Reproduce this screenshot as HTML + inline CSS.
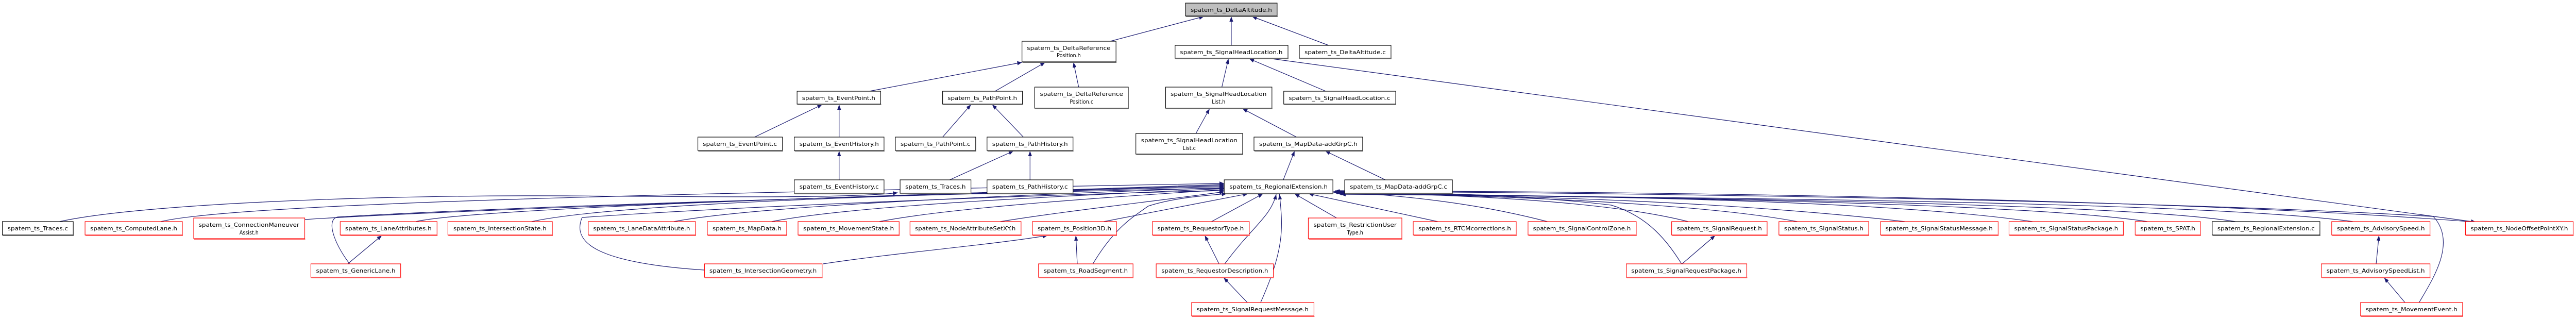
<!DOCTYPE html>
<html><head><meta charset="utf-8"><style>
html,body{margin:0;padding:0;background:#fff;width:100%;height:100%;overflow:hidden;}
svg{display:block;position:absolute;left:0;top:0;width:100vw;height:100vh;}
text{font-family:"DejaVu Sans","Liberation Sans",sans-serif;font-size:10.5px;fill:#000;text-anchor:middle;}
.b{fill:#fff;stroke:#000;stroke-width:1.2;}
.g{fill:#bfbfbf;stroke:#000;stroke-width:1.2;}
.r{fill:#fff;stroke:#f00;stroke-width:1.2;}
.sb{stroke:#666;stroke-width:2;}
.sr{stroke:#ff5a5a;stroke-width:2;}
.e{fill:none;stroke:#191970;stroke-width:1.2;}
</style></head><body>
<svg viewBox="0 0 5452 619" preserveAspectRatio="none" xmlns="http://www.w3.org/2000/svg">
<defs><marker id="a" viewBox="0 0 10 8" refX="10" refY="4" markerWidth="11" markerHeight="8" markerUnits="userSpaceOnUse" orient="auto"><path d="M0,0L10,4L0,8z" fill="#191970"/></marker></defs>

<g class="e" marker-end="url(#a)">
<path d="M2350,80L2548,32"/>
<path d="M2606,88L2606,32"/>
<path d="M2812,88L2650,32"/>
<path d="M1840,177L2163,121"/>
<path d="M2106,177L2212,121"/>
<path d="M2283,169L2272,121"/>
<path d="M2586,169L2600,114"/>
<path d="M2806,177L2644,114"/>
<path d="M2684,113L5240,431"/>
<path d="M1597,266L1740,203"/>
<path d="M1776,266L1776,203"/>
<path d="M1995,266L2055,203"/>
<path d="M2166,266L2100,203"/>
<path d="M2531,259L2560,211"/>
<path d="M2744,266L2630,211"/>
<path d="M1776,349L1776,293"/>
<path d="M2010,349L2145,293"/>
<path d="M2180,349L2180,293"/>
<path d="M2716,349L2740,293"/>
<path d="M2932,349L2805,293"/>
<path d="M126,430C300,395 800,378 1200,380C1500,382 1800,385 1900,374"/>
<path d="M340,430C500,395 1400,375 2591,356"/>
<path d="M645,426C900,410 1700,385 2591,358"/>
<path d="M880,430C1000,405 1800,380 2591,360"/>
<path d="M1125,430C1300,395 1900,378 2591,362"/>
<path d="M1426,430C1600,400 2100,380 2591,364"/>
<path d="M1633,430C1800,400 2200,382 2591,366"/>
<path d="M1861,430C2000,405 2300,385 2591,368"/>
<path d="M2117,430C2250,410 2450,390 2591,372"/>
<path d="M740,512C705,470 690,425 715,421C1200,395 2200,372 2591,365"/>
<path d="M1491,524C1260,510 1210,470 1232,422C1600,398 2300,375 2591,370"/>
<path d="M2336,430L2641,376"/>
<path d="M2564,430L2673,376"/>
<path d="M2313,512C2360,440 2400,420 2430,400C2480,385 2540,380 2596,376"/>
<path d="M2592,512C2650,440 2690,420 2701,377"/>
<path d="M2668,587C2720,480 2715,440 2708,377"/>
<path d="M2829,423L2740,376"/>
<path d="M3043,430L2770,376"/>
<path d="M3275,430C3150,400 3000,380 2822,372"/>
<path d="M3573,430C3400,390 3100,378 2822,373"/>
<path d="M3804,430C3600,395 3200,380 2830,374"/>
<path d="M4032,430C3700,395 3300,380 2830,375"/>
<path d="M4302,430C4000,390 3400,380 2835,375"/>
<path d="M4545,430C4300,395 3500,382 2835,376"/>
<path d="M4731,430C4500,395 3600,384 2838,376"/>
<path d="M4980,430C4700,395 3800,384 2838,377"/>
<path d="M5120,587C5150,540 5200,470 5150,420C4500,385 3300,374 2825,371"/>
<path d="M3559,512C3530,470 3490,420 3410,398C3200,375 2950,373 2826,372"/>
<path d="M2826,370C3500,372 4600,385 5240,431"/>
<path d="M736,512L808,457"/>
<path d="M1742,512C1900,490 2100,475 2217,457"/>
<path d="M2280,512L2277,457"/>
<path d="M2580,512L2550,457"/>
<path d="M2640,587L2590,539"/>
<path d="M3560,512L3630,457"/>
<path d="M5029,512L5035,457"/>
<path d="M5090,587L5046,539"/>
</g>

<g>
<rect class="g" x="2509" y="6" width="194" height="25"/><line class="sb" x1="2510" y1="32" x2="2704" y2="32"/><text x="2606" y="23" textLength="172" lengthAdjust="spacingAndGlyphs">spatem_ts_DeltaAltitude.h</text>

<rect class="b" x="2163" y="80" width="199" height="40"/><line class="sb" x1="2164" y1="121" x2="2363" y2="121"/><text x="2262" y="97" textLength="177" lengthAdjust="spacingAndGlyphs">spatem_ts_DeltaReference</text><text x="2262" y="111">Position.h</text>
<rect class="b" x="2487" y="88" width="239" height="25"/><line class="sb" x1="2488" y1="114" x2="2727" y2="114"/><text x="2606" y="105" textLength="217" lengthAdjust="spacingAndGlyphs">spatem_ts_SignalHeadLocation.h</text>
<rect class="b" x="2750" y="88" width="194" height="25"/><line class="sb" x1="2751" y1="114" x2="2945" y2="114"/><text x="2847" y="105" textLength="172" lengthAdjust="spacingAndGlyphs">spatem_ts_DeltaAltitude.c</text>

<rect class="b" x="1687" y="177" width="177" height="25"/><line class="sb" x1="1688" y1="203" x2="1865" y2="203"/><text x="1775" y="194" textLength="155" lengthAdjust="spacingAndGlyphs">spatem_ts_EventPoint.h</text>
<rect class="b" x="1995" y="177" width="169" height="25"/><line class="sb" x1="1996" y1="203" x2="2165" y2="203"/><text x="2079" y="194" textLength="147" lengthAdjust="spacingAndGlyphs">spatem_ts_PathPoint.h</text>
<rect class="b" x="2190" y="169" width="198" height="41"/><line class="sb" x1="2191" y1="211" x2="2389" y2="211"/><text x="2289" y="186" textLength="176" lengthAdjust="spacingAndGlyphs">spatem_ts_DeltaReference</text><text x="2289" y="201">Position.c</text>
<rect class="b" x="2467" y="169" width="225" height="41"/><line class="sb" x1="2468" y1="211" x2="2693" y2="211"/><text x="2579" y="186" textLength="203" lengthAdjust="spacingAndGlyphs">spatem_ts_SignalHeadLocation</text><text x="2579" y="201">List.h</text>
<rect class="b" x="2717" y="177" width="237" height="25"/><line class="sb" x1="2718" y1="203" x2="2955" y2="203"/><text x="2835" y="194" textLength="215" lengthAdjust="spacingAndGlyphs">spatem_ts_SignalHeadLocation.c</text>

<rect class="b" x="1477" y="266" width="179" height="26"/><line class="sb" x1="1478" y1="293" x2="1657" y2="293"/><text x="1566" y="283" textLength="157" lengthAdjust="spacingAndGlyphs">spatem_ts_EventPoint.c</text>
<rect class="b" x="1681" y="266" width="190" height="26"/><line class="sb" x1="1682" y1="293" x2="1872" y2="293"/><text x="1776" y="283" textLength="168" lengthAdjust="spacingAndGlyphs">spatem_ts_EventHistory.h</text>
<rect class="b" x="1895" y="266" width="170" height="26"/><line class="sb" x1="1896" y1="293" x2="2066" y2="293"/><text x="1980" y="283" textLength="148" lengthAdjust="spacingAndGlyphs">spatem_ts_PathPoint.c</text>
<rect class="b" x="2089" y="266" width="182" height="26"/><line class="sb" x1="2090" y1="293" x2="2272" y2="293"/><text x="2180" y="283" textLength="160" lengthAdjust="spacingAndGlyphs">spatem_ts_PathHistory.h</text>
<rect class="b" x="2404" y="259" width="226" height="40"/><line class="sb" x1="2405" y1="300" x2="2631" y2="300"/><text x="2517" y="276" textLength="204" lengthAdjust="spacingAndGlyphs">spatem_ts_SignalHeadLocation</text><text x="2517" y="291">List.c</text>
<rect class="b" x="2654" y="266" width="230" height="26"/><line class="sb" x1="2655" y1="293" x2="2885" y2="293"/><text x="2769" y="283" textLength="208" lengthAdjust="spacingAndGlyphs">spatem_ts_MapData-addGrpC.h</text>

<rect class="b" x="1681" y="349" width="190" height="26"/><line class="sb" x1="1682" y1="376" x2="1872" y2="376"/><text x="1776" y="366" textLength="168" lengthAdjust="spacingAndGlyphs">spatem_ts_EventHistory.c</text>
<rect class="b" x="1905" y="349" width="150" height="26"/><line class="sb" x1="1906" y1="376" x2="2056" y2="376"/><text x="1980" y="366" textLength="128" lengthAdjust="spacingAndGlyphs">spatem_ts_Traces.h</text>
<rect class="b" x="2089" y="349" width="182" height="26"/><line class="sb" x1="2090" y1="376" x2="2272" y2="376"/><text x="2180" y="366" textLength="160" lengthAdjust="spacingAndGlyphs">spatem_ts_PathHistory.c</text>
<rect class="b" x="2591" y="349" width="230" height="26"/><line class="sb" x1="2592" y1="376" x2="2822" y2="376"/><text x="2706" y="366" textLength="208" lengthAdjust="spacingAndGlyphs">spatem_ts_RegionalExtension.h</text>
<rect class="b" x="2846" y="349" width="228" height="26"/><line class="sb" x1="2847" y1="376" x2="3075" y2="376"/><text x="2960" y="366" textLength="206" lengthAdjust="spacingAndGlyphs">spatem_ts_MapData-addGrpC.c</text>

<rect class="b" x="5" y="430" width="150" height="26"/><line class="sb" x1="6" y1="457" x2="156" y2="457"/><text x="80" y="447" textLength="128" lengthAdjust="spacingAndGlyphs">spatem_ts_Traces.c</text>
<rect class="r" x="180" y="430" width="206" height="26"/><line class="sr" x1="181" y1="457" x2="387" y2="457"/><text x="283" y="447" textLength="184" lengthAdjust="spacingAndGlyphs">spatem_ts_ComputedLane.h</text>
<rect class="r" x="410" y="423" width="235" height="40"/><line class="sr" x1="411" y1="464" x2="646" y2="464"/><text x="527" y="440" textLength="213" lengthAdjust="spacingAndGlyphs">spatem_ts_ConnectionManeuver</text><text x="527" y="455">Assist.h</text>
<rect class="r" x="720" y="430" width="205" height="26"/><line class="sr" x1="721" y1="457" x2="926" y2="457"/><text x="822" y="447" textLength="183" lengthAdjust="spacingAndGlyphs">spatem_ts_LaneAttributes.h</text>
<rect class="r" x="948" y="430" width="221" height="26"/><line class="sr" x1="949" y1="457" x2="1170" y2="457"/><text x="1058" y="447" textLength="197" lengthAdjust="spacingAndGlyphs">spatem_ts_IntersectionState.h</text>
<rect class="r" x="1245" y="430" width="227" height="26"/><line class="sr" x1="1246" y1="457" x2="1473" y2="457"/><text x="1358" y="447" textLength="205" lengthAdjust="spacingAndGlyphs">spatem_ts_LaneDataAttribute.h</text>
<rect class="r" x="1497" y="430" width="168" height="26"/><line class="sr" x1="1498" y1="457" x2="1666" y2="457"/><text x="1581" y="447" textLength="146" lengthAdjust="spacingAndGlyphs">spatem_ts_MapData.h</text>
<rect class="r" x="1689" y="430" width="214" height="26"/><line class="sr" x1="1690" y1="457" x2="1904" y2="457"/><text x="1796" y="447" textLength="192" lengthAdjust="spacingAndGlyphs">spatem_ts_MovementState.h</text>
<rect class="r" x="1926" y="430" width="235" height="26"/><line class="sr" x1="1927" y1="457" x2="2162" y2="457"/><text x="2043" y="447" textLength="213" lengthAdjust="spacingAndGlyphs">spatem_ts_NodeAttributeSetXY.h</text>
<rect class="r" x="2185" y="430" width="178" height="26"/><line class="sr" x1="2186" y1="457" x2="2364" y2="457"/><text x="2274" y="447" textLength="156" lengthAdjust="spacingAndGlyphs">spatem_ts_Position3D.h</text>
<rect class="r" x="2439" y="430" width="205" height="26"/><line class="sr" x1="2440" y1="457" x2="2645" y2="457"/><text x="2541" y="447" textLength="183" lengthAdjust="spacingAndGlyphs">spatem_ts_RequestorType.h</text>
<rect class="r" x="2769" y="423" width="198" height="40"/><line class="sr" x1="2770" y1="464" x2="2968" y2="464"/><text x="2868" y="440" textLength="176" lengthAdjust="spacingAndGlyphs">spatem_ts_RestrictionUser</text><text x="2868" y="455">Type.h</text>
<rect class="r" x="2991" y="430" width="218" height="26"/><line class="sr" x1="2992" y1="457" x2="3210" y2="457"/><text x="3100" y="447" textLength="196" lengthAdjust="spacingAndGlyphs">spatem_ts_RTCMcorrections.h</text>
<rect class="r" x="3234" y="430" width="229" height="26"/><line class="sr" x1="3235" y1="457" x2="3464" y2="457"/><text x="3348" y="447" textLength="207" lengthAdjust="spacingAndGlyphs">spatem_ts_SignalControlZone.h</text>
<rect class="r" x="3538" y="430" width="202" height="26"/><line class="sr" x1="3539" y1="457" x2="3741" y2="457"/><text x="3639" y="447" textLength="180" lengthAdjust="spacingAndGlyphs">spatem_ts_SignalRequest.h</text>
<rect class="r" x="3765" y="430" width="190" height="26"/><line class="sr" x1="3766" y1="457" x2="3956" y2="457"/><text x="3860" y="447" textLength="168" lengthAdjust="spacingAndGlyphs">spatem_ts_SignalStatus.h</text>
<rect class="r" x="3980" y="430" width="249" height="26"/><line class="sr" x1="3981" y1="457" x2="4230" y2="457"/><text x="4104" y="447" textLength="227" lengthAdjust="spacingAndGlyphs">spatem_ts_SignalStatusMessage.h</text>
<rect class="r" x="4252" y="430" width="242" height="26"/><line class="sr" x1="4253" y1="457" x2="4495" y2="457"/><text x="4373" y="447" textLength="220" lengthAdjust="spacingAndGlyphs">spatem_ts_SignalStatusPackage.h</text>
<rect class="r" x="4519" y="430" width="138" height="26"/><line class="sr" x1="4520" y1="457" x2="4658" y2="457"/><text x="4588" y="447" textLength="116" lengthAdjust="spacingAndGlyphs">spatem_ts_SPAT.h</text>
<rect class="b" x="4682" y="430" width="228" height="26"/><line class="sb" x1="4683" y1="457" x2="4911" y2="457"/><text x="4796" y="447" textLength="206" lengthAdjust="spacingAndGlyphs">spatem_ts_RegionalExtension.c</text>
<rect class="r" x="4935" y="430" width="208" height="26"/><line class="sr" x1="4936" y1="457" x2="5144" y2="457"/><text x="5039" y="447" textLength="186" lengthAdjust="spacingAndGlyphs">spatem_ts_AdvisorySpeed.h</text>
<rect class="r" x="5218" y="430" width="228" height="26"/><line class="sr" x1="5219" y1="457" x2="5447" y2="457"/><text x="5332" y="447" textLength="206" lengthAdjust="spacingAndGlyphs">spatem_ts_NodeOffsetPointXY.h</text>

<rect class="r" x="658" y="512" width="190" height="26"/><line class="sr" x1="659" y1="539" x2="849" y2="539"/><text x="753" y="529" textLength="168" lengthAdjust="spacingAndGlyphs">spatem_ts_GenericLane.h</text>
<rect class="r" x="1491" y="512" width="249" height="26"/><line class="sr" x1="1492" y1="539" x2="1741" y2="539"/><text x="1615" y="529" textLength="227" lengthAdjust="spacingAndGlyphs">spatem_ts_IntersectionGeometry.h</text>
<rect class="r" x="2198" y="512" width="200" height="26"/><line class="sr" x1="2199" y1="539" x2="2399" y2="539"/><text x="2298" y="529" textLength="178" lengthAdjust="spacingAndGlyphs">spatem_ts_RoadSegment.h</text>
<rect class="r" x="2447" y="512" width="248" height="26"/><line class="sr" x1="2448" y1="539" x2="2696" y2="539"/><text x="2571" y="529" textLength="226" lengthAdjust="spacingAndGlyphs">spatem_ts_RequestorDescription.h</text>
<rect class="r" x="3442" y="512" width="255" height="26"/><line class="sr" x1="3443" y1="539" x2="3698" y2="539"/><text x="3569" y="529" textLength="233" lengthAdjust="spacingAndGlyphs">spatem_ts_SignalRequestPackage.h</text>
<rect class="r" x="4913" y="512" width="230" height="26"/><line class="sr" x1="4914" y1="539" x2="5144" y2="539"/><text x="5028" y="529" textLength="208" lengthAdjust="spacingAndGlyphs">spatem_ts_AdvisorySpeedList.h</text>

<rect class="r" x="2522" y="587" width="259" height="26"/><line class="sr" x1="2523" y1="614" x2="2782" y2="614"/><text x="2651" y="604" textLength="237" lengthAdjust="spacingAndGlyphs">spatem_ts_SignalRequestMessage.h</text>
<rect class="r" x="4996" y="587" width="216" height="26"/><line class="sr" x1="4997" y1="614" x2="5213" y2="614"/><text x="5104" y="604" textLength="194" lengthAdjust="spacingAndGlyphs">spatem_ts_MovementEvent.h</text>
</g>
</svg>
</body></html>
